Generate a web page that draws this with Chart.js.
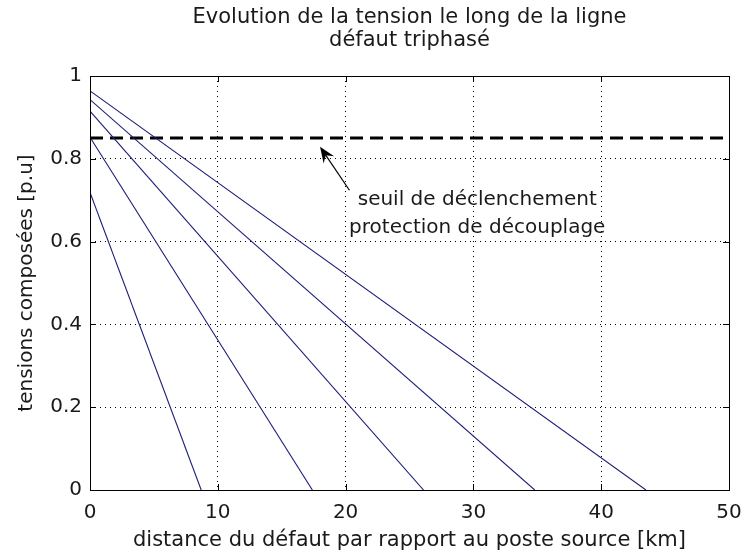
<!DOCTYPE html>
<html>
<head>
<meta charset="utf-8">
<script src="https://cdn.jsdelivr.net/npm/chart.js@4/dist/chart.umd.min.js"></script>
<style>
  html, body { margin: 0; padding: 0; background: #fff; }
  #wrap { width: 742px; height: 555px; }
</style>
</head>
<body>
<div id="wrap"><canvas id="c" width="742" height="555"></canvas></div>
<script>
// Voltage at the source end (0 km) for each curve, in p.u.
const startVoltage = [0.964, 0.943, 0.915, 0.852, 0.719];
// Fault distance at which each curve reaches zero, in km.
const zeroDistance = [43.5, 34.8, 26.1, 17.4, 8.7];
// Trip threshold of the decoupling protection, in p.u.
const thresholdVoltage = 0.85;
const thresholdSpan = [0, 50];
// Axis ticks
const xTicks = [0, 10, 20, 30, 40, 50];
const yTicks = [0, 0.2, 0.4, 0.6, 0.8, 1];
// Annotation text and the point the arrow designates
const noteLines = ['seuil de déclenchement', 'protection de découplage'];
const notePos = { x: 30.3, y: [0.70, 0.634] };
const arrowTarget = { x: 18.0, y: 0.829 };
const arrowTail = { x: 20.3, y: 0.724 };

const lineColor = '#1c1c78';
const textColor = '#1a1a1a';
const FONT = '"DejaVu Sans", "Liberation Sans", sans-serif';

const datasets = startVoltage.map((v, i) => ({
  data: [{ x: 0, y: v }, { x: zeroDistance[i], y: 0 }],
  borderColor: lineColor,
  borderWidth: 1.1,
  pointRadius: 0,
  showLine: true,
  fill: false
}));
datasets.push({
  data: thresholdSpan.map(x => ({ x, y: thresholdVoltage })),
  borderColor: '#000',
  borderWidth: 3,
  borderDash: [13, 7],
  pointRadius: 0,
  showLine: true,
  fill: false
});

// Frame, inward ticks, arrow and note
const framePlugin = {
  id: 'frame',
  afterDatasetsDraw(chart) {
    const { ctx, chartArea: a, scales: { x, y } } = chart;
    ctx.save();
    ctx.strokeStyle = '#000';
    ctx.lineWidth = 1;
    ctx.strokeRect(Math.round(a.left) + 0.5, Math.round(a.top) + 0.5,
                   Math.round(a.right - a.left), Math.round(a.bottom - a.top));
    const tl = 6;
    ctx.beginPath();
    xTicks.forEach(t => {
      const px = Math.round(x.getPixelForValue(t)) + 0.5;
      ctx.moveTo(px, a.bottom); ctx.lineTo(px, a.bottom - tl);
      ctx.moveTo(px, a.top); ctx.lineTo(px, a.top + tl);
    });
    yTicks.forEach(t => {
      const py = Math.round(y.getPixelForValue(t)) + 0.5;
      ctx.moveTo(a.left, py); ctx.lineTo(a.left + tl, py);
      ctx.moveTo(a.right, py); ctx.lineTo(a.right - tl, py);
    });
    ctx.stroke();

    // arrow
    const tx = x.getPixelForValue(arrowTarget.x), ty = y.getPixelForValue(arrowTarget.y);
    const sx = x.getPixelForValue(arrowTail.x), sy = y.getPixelForValue(arrowTail.y);
    const ang = Math.atan2(ty - sy, tx - sx);
    const hl = 17, hw = 0.38;
    ctx.beginPath();
    ctx.moveTo(sx, sy);
    ctx.lineTo(tx - Math.cos(ang) * 8, ty - Math.sin(ang) * 8);
    ctx.lineWidth = 1.2;
    ctx.stroke();
    ctx.beginPath();
    ctx.moveTo(tx, ty);
    ctx.lineTo(tx - hl * Math.cos(ang - hw), ty - hl * Math.sin(ang - hw));
    ctx.lineTo(tx - hl * 0.6 * Math.cos(ang), ty - hl * 0.6 * Math.sin(ang));
    ctx.lineTo(tx - hl * Math.cos(ang + hw), ty - hl * Math.sin(ang + hw));
    ctx.closePath();
    ctx.fillStyle = '#000';
    ctx.fill();

    // note
    ctx.font = '20px ' + FONT;
    ctx.fillStyle = textColor;
    ctx.textAlign = 'center';
    ctx.textBaseline = 'middle';
    const cx = x.getPixelForValue(notePos.x);
    noteLines.forEach((t, i) => ctx.fillText(t, cx, y.getPixelForValue(notePos.y[i])));
    ctx.restore();
  }
};

new Chart(document.getElementById('c'), {
  type: 'scatter',
  data: { datasets },
  options: {
    responsive: false,
    animation: false,
    layout: { padding: { left: 0, right: 13, top: 0, bottom: 0 } },
    plugins: {
      legend: { display: false },
      tooltip: { enabled: false },
      title: {
        display: true,
        fullSize: false,
        text: ['Evolution de la tension le long de la ligne', 'défaut triphasé'],
        color: textColor,
        font: { family: FONT, size: 21, weight: 'normal', lineHeight: '23px' },
        padding: { top: 6, bottom: 24 }
      }
    },
    scales: {
      x: {
        type: 'linear',
        min: 0, max: 50,
        afterBuildTicks(s) { s.ticks = xTicks.map(v => ({ value: v })); },
        afterFit(s) { s.height = 65; s.paddingLeft = 0; s.paddingRight = 0; },
        grid: { color: '#000', lineWidth: 1, drawTicks: false },
        border: { display: false, dash: [1, 4] },
        ticks: {
          color: textColor, padding: 11,
          font: { family: FONT, size: 20 },
          maxRotation: 0
        },
        title: {
          display: true,
          text: 'distance du défaut par rapport au poste source [km]',
          color: textColor,
          font: { family: FONT, size: 21 },
          padding: { top: 0, bottom: 2 }
        }
      },
      y: {
        type: 'linear',
        min: 0, max: 1,
        afterBuildTicks(s) { s.ticks = yTicks.map(v => ({ value: v })); },
        afterFit(s) { s.width = 90; },
        grid: { color: '#000', lineWidth: 1, drawTicks: false },
        border: { display: false, dash: [1, 4] },
        ticks: {
          color: textColor, padding: 8,
          font: { family: FONT, size: 20 },
          callback: v => String(+v.toFixed(1))
        },
        title: {
          display: true,
          text: 'tensions composées [p.u]',
          color: textColor,
          font: { family: FONT, size: 20 },
          padding: { top: 15, bottom: 0 }
        }
      }
    }
  },
  plugins: [framePlugin]
});
</script>
</body>
</html>
